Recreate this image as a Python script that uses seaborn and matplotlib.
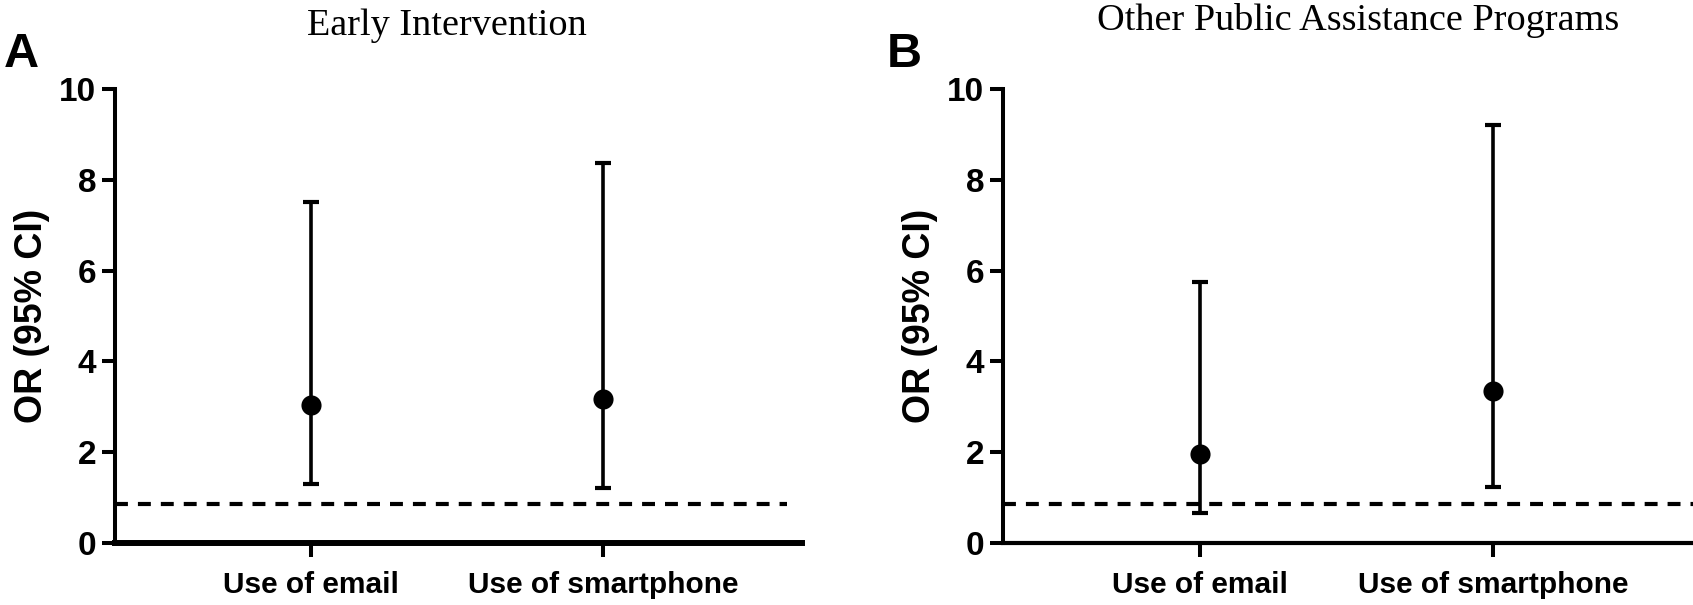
import numpy as np
import pandas as pd
from matplotlib import pyplot as plt
import seaborn as sns


# ---- Data --------------------------------------------------------------------

measures = ["Use of email", "Use of smartphone"]

ei_or = [3.05, 3.18]
ei_lower = [1.30, 1.21]
ei_upper = [7.50, 8.37]

opa_or = [1.96, 3.34]
opa_lower = [0.66, 1.23]
opa_upper = [5.74, 9.21]

ref_line = 0.87

panel_titles = ["Early Intervention", "Other Public Assistance Programs"]
panel_letters = ["A", "B"]
y_ticks = [0, 2, 4, 6, 8, 10]


# ---- Style -------------------------------------------------------------------

sns.set_style("ticks", rc={
    "axes.edgecolor": "black",
    "axes.labelcolor": "black",
    "text.color": "black",
    "xtick.color": "black",
    "ytick.color": "black",
})
plt.rcParams["font.family"] = ["Liberation Sans", "DejaVu Sans"]

W, H = 1693, 605
fig = plt.figure(figsize=(W / 100, H / 100), dpi=100)


def draw_panel(ax, ors, lows, highs, line_xmax, bottom_lw):
    df = pd.DataFrame({"measure": measures, "or_": ors, "lo": lows, "hi": highs})
    yerr = np.array([df["or_"] - df["lo"], df["hi"] - df["or_"]])

    ax.errorbar(df["measure"], df["or_"], yerr=yerr, fmt="none", ecolor="black",
                elinewidth=2.6, capsize=6, capthick=3, zorder=2)
    sns.scatterplot(data=df, x="measure", y="or_", ax=ax, color="black",
                    s=210, edgecolor="black", linewidth=0, zorder=3)
    ax.axhline(ref_line, xmin=0, xmax=line_xmax, color="black", lw=3,
               dashes=(3.1, 2.4), zorder=1)

    ax.set_xlim(-0.67, 1.68)
    ax.set_ylim(0, 10)
    ax.set_yticks(y_ticks)
    ax.set_xlabel("")
    ax.set_ylabel("OR (95% CI)", fontsize=27, fontweight="bold", labelpad=7)

    for side in ["top", "right"]:
        ax.spines[side].set_visible(False)
    ax.spines["left"].set_linewidth(2.9)
    ax.spines["bottom"].set_linewidth(bottom_lw)
    ax.spines["left"].set_capstyle("projecting")

    ax.tick_params(axis="y", length=9.4, width=2.9, pad=4, labelsize=24)
    ax.tick_params(axis="x", length=10, width=2.9, pad=10, labelsize=21.5)
    for lab in ax.get_xticklabels() + ax.get_yticklabels():
        lab.set_fontweight("bold")


# panel A
ax_a = fig.add_axes([115 / W, 1 - 543 / H, (802 - 115) / W, (543 - 89) / H])
draw_panel(ax_a, ei_or, ei_lower, ei_upper, (787 - 115) / (802 - 115), 4.3)

# panel B
ax_b = fig.add_axes([1003 / W, 1 - 543 / H, (W - 1003) / W, (543 - 89) / H])
draw_panel(ax_b, opa_or, opa_lower, opa_upper, 1.0, 3.0)

# titles and panel letters
fig.text(447 / W, 1 - 35 / H, panel_titles[0], ha="center", va="baseline",
         fontsize=27.5, family="Liberation Serif")
fig.text(1358 / W, 1 - 30 / H, panel_titles[1], ha="center", va="baseline",
         fontsize=27.5, family="Liberation Serif")
fig.text(4 / W, 1 - 67 / H, panel_letters[0], ha="left", va="baseline",
         fontsize=35, fontweight="bold")
fig.text(887 / W, 1 - 67 / H, panel_letters[1], ha="left", va="baseline",
         fontsize=35, fontweight="bold")

fig.savefig("out.png", dpi=100)
